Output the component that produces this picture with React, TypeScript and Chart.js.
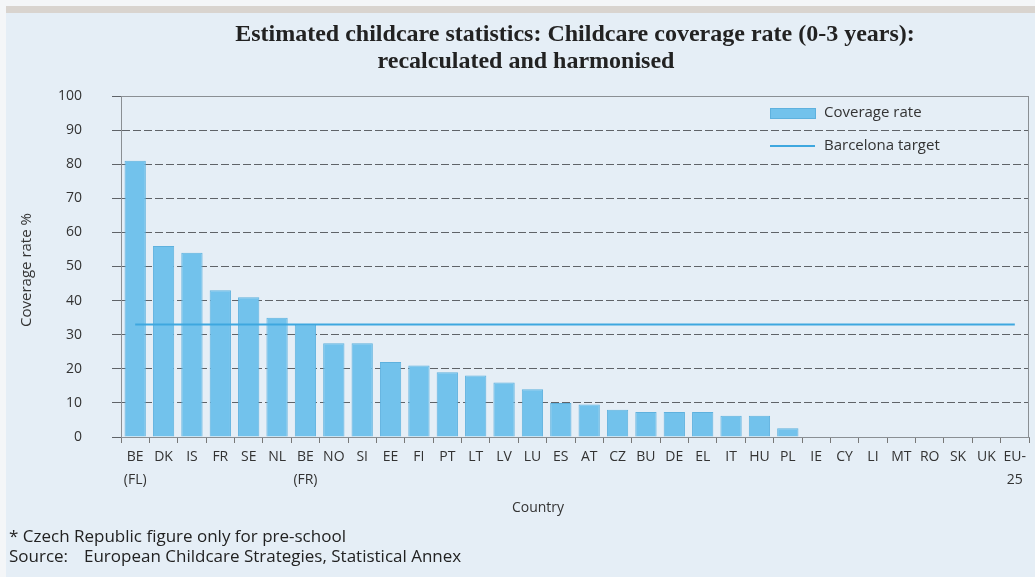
import React, { useEffect, useRef } from "react";
import { Chart, registerables } from "chart.js";

Chart.register(...registerables);

const categories: (string | string[])[] = [
  ["BE", "(FL)"], "DK", "IS", "FR", "SE", "NL", ["BE", "(FR)"], "NO", "SI", "EE", "FI", "PT", "LT", "LV", "LU",
  "ES", "AT", "CZ", "BU", "DE", "EL", "IT", "HU", "PL", "IE", "CY", "LI", "MT", "RO", "SK", "UK", ["EU-", "25"],
];
const coverageRate = [
  81, 56, 54, 43, 41, 35, 33, 27.5, 27.5, 22, 21, 19, 18, 16, 14,
  10, 9.5, 8, 7.3, 7.3, 7.3, 6.2, 6.2, 2.6, 0, 0, 0, 0, 0, 0, 0, 0,
];
const barcelonaTarget = categories.map(() => 33);
const yTicks = [0, 10, 20, 30, 40, 50, 60, 70, 80, 90, 100];

const titleLine1 = "Estimated childcare statistics: Childcare coverage rate (0-3 years):";
const titleLine2 = "recalculated and harmonised";
const yTitle = "Coverage rate %";
const xTitle = "Country";
const legendBar = "Coverage rate";
const legendLine = "Barcelona target";
const note1 = "* Czech Republic figure only for pre-school";
const note2Label = "Source:";
const note2Text = "European Childcare Strategies, Statistical Annex";

const BAR_FILL = "#72c2ec";
const BAR_EDGE = "#5eb1de";
const LINE_COLOR = "#3ea7df";
const BG = "#e5eef6";
const SANS = "'Open Sans', Lato, sans-serif";

const decor = {
  id: "decor",
  beforeDraw(chart: any) {
    const { ctx, width, height } = chart;
    ctx.save();
    ctx.fillStyle = BG;
    ctx.fillRect(0, 0, width, height);
    ctx.fillStyle = "#f4f6f8";
    ctx.fillRect(0, 0, width, 6);
    ctx.fillRect(0, 0, 6, height);
    ctx.fillStyle = "#d9d4cf";
    ctx.fillRect(6, 6, width - 6, 7);
    ctx.restore();
  },
  afterDraw(chart: any) {
    const { ctx, chartArea } = chart;
    ctx.save();
    // plot frame
    ctx.strokeStyle = "#8a8f94";
    ctx.lineWidth = 1;
    ctx.strokeRect(chartArea.left + 0.5, chartArea.top + 0.5, chartArea.right - chartArea.left - 1, chartArea.bottom - chartArea.top);

    // title
    ctx.fillStyle = "#222";
    ctx.font = "bold 24px 'Liberation Serif', serif";
    ctx.textAlign = "center";
    ctx.textBaseline = "middle";
    ctx.fillText(titleLine1, 575, 35);
    ctx.fillText(titleLine2, 526, 62);

    // y title
    ctx.save();
    ctx.translate(27, 270);
    ctx.rotate(-Math.PI / 2);
    ctx.font = "15px " + SANS;
    ctx.fillStyle = "#333";
    ctx.fillText(yTitle, 0, 0);
    ctx.restore();

    // x title
    ctx.font = "14px " + SANS;
    ctx.fillStyle = "#333";
    ctx.fillText(xTitle, 538, 508);

    // legend
    ctx.fillStyle = BAR_FILL;
    ctx.fillRect(770, 108, 45, 10);
    ctx.strokeStyle = BAR_EDGE;
    ctx.strokeRect(770.5, 108.5, 45, 10);
    ctx.strokeStyle = LINE_COLOR;
    ctx.lineWidth = 2;
    ctx.beginPath();
    ctx.moveTo(770, 146);
    ctx.lineTo(815, 146);
    ctx.stroke();
    ctx.fillStyle = "#333";
    ctx.font = "15px " + SANS;
    ctx.textAlign = "left";
    ctx.fillText(legendBar, 824, 113);
    ctx.fillText(legendLine, 824, 146);

    // notes
    ctx.fillStyle = "#222";
    ctx.font = "17px " + SANS;
    ctx.fillText(note1, 9, 537);
    ctx.fillText(note2Label, 9, 557);
    ctx.fillText(note2Text, 84, 557);
    ctx.restore();
  },
};

export default function App() {
  const ref = useRef<HTMLCanvasElement | null>(null);
  useEffect(() => {
    document.body.style.margin = "0";
    const canvas = ref.current!;
    const chart = new Chart(canvas, {
      type: "bar",
      data: {
        labels: categories as any,
        datasets: [
          {
            type: "line" as any,
            label: legendLine,
            data: barcelonaTarget,
            borderColor: LINE_COLOR,
            borderWidth: 2,
            pointRadius: 0,
            fill: false,
            order: 1,
          } as any,
          {
            label: legendBar,
            data: coverageRate,
            backgroundColor: BAR_FILL,
            borderColor: BAR_EDGE,
            borderWidth: 1,
            barPercentage: 0.75,
            categoryPercentage: 1,
            order: 2,
          },
        ],
      },
      options: {
        responsive: false,
        animation: false,
        devicePixelRatio: 1,
        layout: { padding: { left: 0, right: 6, top: 96, bottom: 0 } },
        plugins: {
          legend: { display: false },
          title: { display: false },
          tooltip: { enabled: false },
        },
        scales: {
          x: {
            offset: true,
            grid: { drawOnChartArea: false, drawTicks: true, tickLength: 6, color: "#777", offset: true },
            border: { display: true, color: "#8a8f94" },
            ticks: {
              autoSkip: false,
              maxRotation: 0,
              minRotation: 0,
              padding: 2,
              color: "#333",
              font: { family: SANS, size: 14, lineHeight: 1.65 },
            },
            afterFit: (s: any) => {
              s.height = 140;
            },
          },
          y: {
            min: 0,
            max: 100,
            afterBuildTicks: (s: any) => {
              s.ticks = yTicks.map((v) => ({ value: v }));
            },
            grid: { color: "#5f6368", tickLength: 9, lineWidth: 1 },
            border: { display: true, color: "#8a8f94", dash: [8, 3] },
            ticks: {
              padding: 30,
              color: "#333",
              font: { family: SANS, size: 14 },
            },
            afterFit: (s: any) => {
              s.width = 121;
            },
          },
        },
      },
      plugins: [decor],
    });
    return () => chart.destroy();
  }, []);
  return (
    <div style={{ width: 1035, height: 577 }}>
      <canvas ref={ref} width={1035} height={577} style={{ display: "block" }} />
    </div>
  );
}
